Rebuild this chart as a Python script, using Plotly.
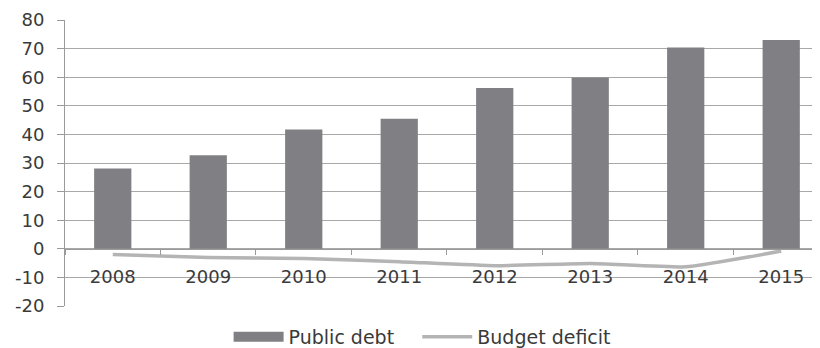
import plotly.graph_objects as go

years = ["2008", "2009", "2010", "2011", "2012", "2013", "2014", "2015"]
public_debt = [28.1, 32.7, 41.7, 45.5, 56.2, 59.9, 70.4, 73.0]
budget_deficit = [-2.0, -3.0, -3.4, -4.5, -5.9, -5.1, -6.3, -0.8]
y_ticks = [-20, -10, 0, 10, 20, 30, 40, 50, 60, 70, 80]

txt = "#3a3a3a"
axc = "#9a9a9a"
bar_color = "#808084"
line_color = "#b4b4b4"
fam = "DejaVu Sans"
nb = "\u00a0"

fig = go.Figure()
fig.add_trace(go.Bar(x=years, y=public_debt, name="Public debt", showlegend=False,
                     marker=dict(color=bar_color, line=dict(width=0))))
# legend entry for the bars (wide swatch like the original)
fig.add_trace(go.Scatter(x=[None], y=[None], name="Public debt" + nb * 3, mode="lines",
                         line=dict(color=bar_color, width=11)))
fig.add_trace(go.Scatter(x=years, y=budget_deficit, name="Budget deficit", mode="lines",
                         line=dict(color=line_color, width=3.5, shape="spline", smoothing=0.4)))

fig.update_layout(
    width=820, height=348,
    margin=dict(l=57, r=0, t=12, b=50, autoexpand=False),
    paper_bgcolor="white", plot_bgcolor="white",
    font=dict(family=fam, size=18, color=txt),
    bargap=0.61,
    showlegend=True,
    legend=dict(orientation="h", x=0.505, xanchor="center", xref="container",
                y=-0.026, yanchor="bottom", yref="container",
                font=dict(family=fam, size=19, color=txt),
                itemwidth=50, traceorder="normal",
                bgcolor="rgba(0,0,0,0)"),
)
fig.update_xaxes(
    type="category", range=[-0.5, 7.49],
    anchor="free", position=0.2, automargin=False,
    showline=True, linecolor=axc, linewidth=1,
    ticks="outside", tickson="boundaries", ticklen=5, tickcolor=axc,
    ticklabelstandoff=12,
    showgrid=False, zeroline=False,
    tickfont=dict(family=fam, size=18, color=txt),
)
fig.update_yaxes(
    range=[-20, 80], tickvals=y_ticks, ticktext=[str(v) for v in y_ticks],
    automargin=False,
    showline=True, linecolor=axc, linewidth=1,
    ticks="outside", ticklen=7, tickcolor=axc,
    ticklabelstandoff=9,
    showgrid=True, gridcolor="#a8a8a8", gridwidth=1,
    zeroline=False,
    tickfont=dict(family=fam, size=18, color=txt),
)

fig.write_html("out.html")
